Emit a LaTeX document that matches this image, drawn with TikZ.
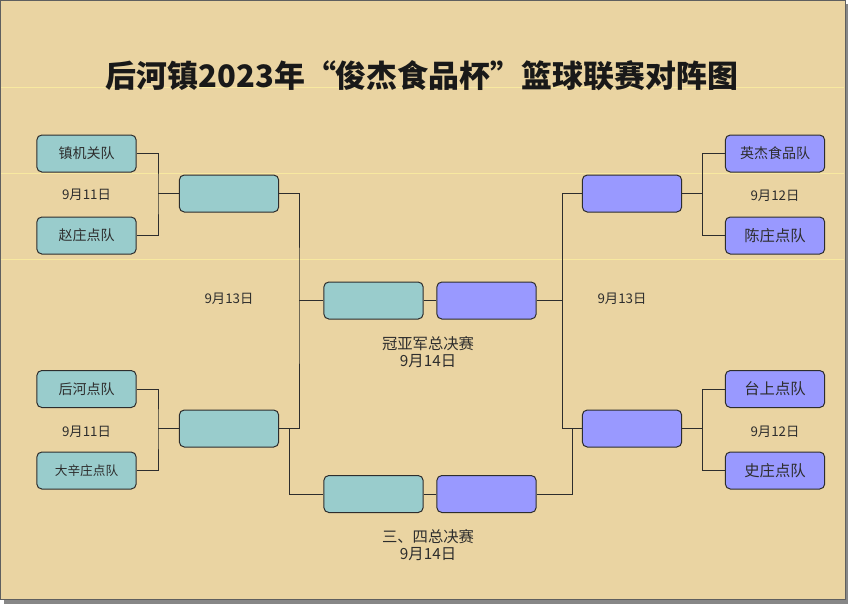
\documentclass[tikz,border=0pt]{standalone}
\usepackage{fontspec}
\setmainfont{Noto Sans CJK SC}
\usetikzlibrary{positioning, calc}
\definecolor{papyrus}{RGB}{234,212,162}
\definecolor{seam}{RGB}{248,233,160}
\definecolor{boxcyan}{RGB}{153,204,204}
\definecolor{boxviolet}{RGB}{153,153,255}
\definecolor{inkgray}{RGB}{45,45,45}
\definecolor{framegray}{RGB}{95,95,95}
\definecolor{shadowgray}{RGB}{135,135,135}

\tikzset{
  teamA/.style={draw=inkgray, fill=boxcyan, rounded corners=3.75pt, line width=0.75pt,
    minimum width=74.5pt, minimum height=27.75pt, inner sep=0pt, text=inkgray,
    font=\fontsize{10.5}{12}\selectfont},
  teamB/.style={teamA, fill=boxviolet},
  daytext/.style={text=inkgray, font=\fontsize{10}{12}\selectfont},
  roundtext/.style={text=inkgray, align=center, font=\fontsize{11.5}{12.75}\selectfont},
  wire/.style={draw=inkgray, line width=0.75pt},
}

\begin{document}
\begin{tikzpicture}[x=0.75pt, y=-0.75pt]
  \useasboundingbox (0,0) rectangle (848,604);

  % page
  \fill[shadowgray] (4,4) rectangle (848,604);
  \fill[papyrus] (0,0) rectangle (845,599);
  \foreach \yy in {87,173,259}
    \draw[seam, line width=0.75pt] (1,\yy) -- (844,\yy);
  \draw[framegray, line width=0.75pt] (0.5,0.5) rectangle (845,599);

  % title
  \node[text={rgb,255:red,25;green,25;blue,25}, font=\fontsize{23.2}{26}\selectfont\bfseries]
    (title) at (422,76) {后河镇2023年“俊杰食品杯”篮球联赛对阵图};

  % left half
  \node[teamA] (zj) at (86.5,153.5) {镇机关队};
  \node[teamA] (zz) at (86.5,235.5) {赵庄点队};
  \node[daytext] (dl1) at (86.5,195) {9月11日};
  \node[teamA] (hh) at (86.5,389) {后河点队};
  \node[teamA, font=\fontsize{9.5}{12}\selectfont] (dx) at (86.5,470.5) {大辛庄点队};
  \node[daytext] (dl2) at (86.5,432) {9月11日};

  \node[teamA] (sl1) at (229,193.5) {};
  \node[teamA] (sl2) at (229,428.5) {};
  \node[daytext] (dl3) at (229,299) {9月13日};

  % right half
  \node[teamB] (yj) at (775,153.5) {英杰食品队};
  \node[teamB, font=\fontsize{11.5}{12}\selectfont] (cz) at (775,235.5) {陈庄点队};
  \node[daytext] (dr1) at (775,196) {9月12日};
  \node[teamB, font=\fontsize{11.5}{12}\selectfont] (ts) at (775,389) {台上点队};
  \node[teamB, font=\fontsize{11.5}{12}\selectfont] (sz) at (775,470.5) {史庄点队};
  \node[daytext] (dr2) at (775,432) {9月12日};

  \node[teamB] (sr1) at (632,193.5) {};
  \node[teamB] (sr2) at (632,428.5) {};
  \node[daytext] (dr3) at (622,299) {9月13日};

  % finals
  \node[teamA] (fa) at (373.5,300.5) {};
  \node[teamB] (fb) at (486.5,300.5) {};
  \node[roundtext] (cap1) at (428,352.5) {冠亚军总决赛\\9月14日};
  \node[teamA] (ta) at (373.5,494) {};
  \node[teamB] (tb) at (486.5,494) {};
  \node[roundtext] (cap2) at (428,545.5) {三、四总决赛\\9月14日};

  % junctions
  \coordinate (jl1) at (158,193.5);
  \coordinate (jl2) at (158,428.5);
  \coordinate (jr1) at (702,193.5);
  \coordinate (jr2) at (702,428.5);
  \coordinate (jl) at (299,300.5);
  \coordinate (jr) at (562,300.5);
  \coordinate (kl) at (289,428.5);
  \coordinate (kr) at (572,428.5);

  % brackets
  \draw[wire] (zj.east) -| (jl1) |- (zz.east);
  \draw[wire] (jl1) -- (sl1.west);
  \draw[wire] (hh.east) -| (jl2) |- (dx.east);
  \draw[wire] (jl2) -- (sl2.west);
  \draw[wire] (yj.west) -| (jr1) |- (cz.west);
  \draw[wire] (jr1) -- (sr1.east);
  \draw[wire] (ts.west) -| (jr2) |- (sz.west);
  \draw[wire] (jr2) -- (sr2.east);

  \draw[wire] (sl1.east) -| (jl) |- (sl2.east);
  \draw[wire] (jl) -- (fa.west);
  \draw[wire] (sr1.west) -| (jr) |- (sr2.west);
  \draw[wire] (jr) -- (fb.east);
  \draw[wire] (fa.east) -- (fb.west);

  \draw[wire] (kl) |- (ta.west);
  \draw[wire] (kr) |- (tb.east);
  \draw[wire] (ta.east) -- (tb.west);
\end{tikzpicture}
\end{document}
